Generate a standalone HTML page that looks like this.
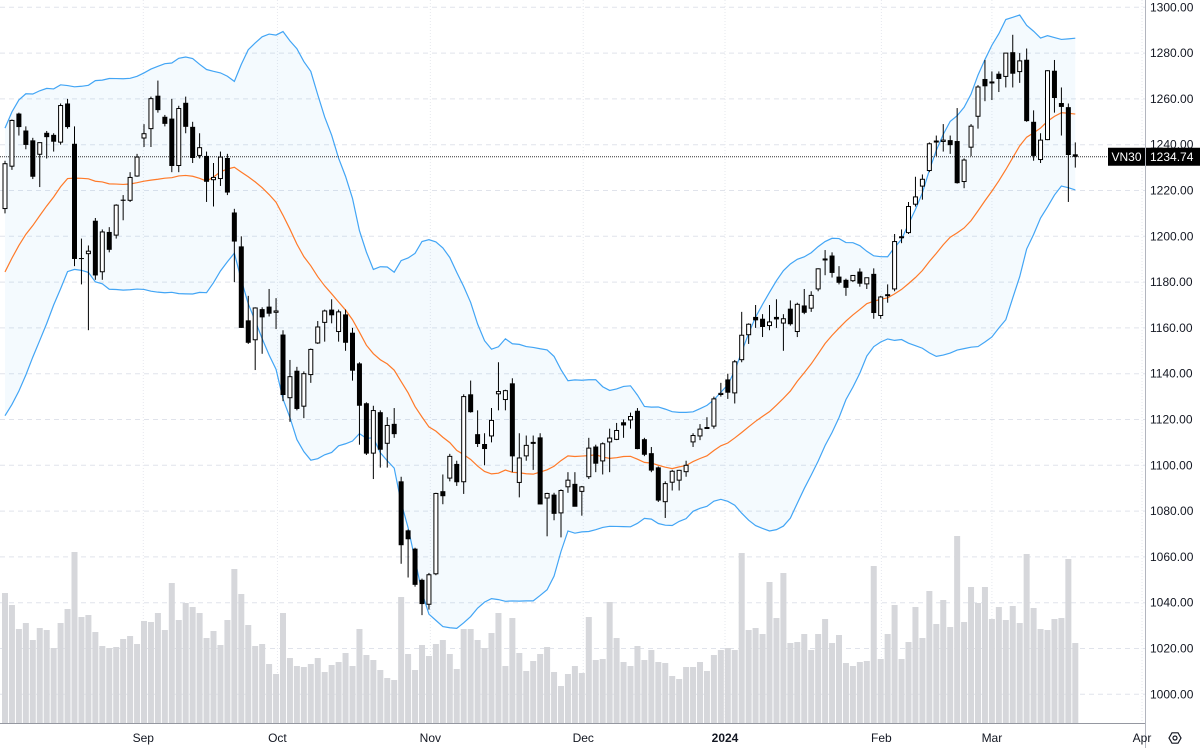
<!DOCTYPE html>
<html><head><meta charset="utf-8"><style>
html,body{margin:0;padding:0;background:#fff;}
svg{display:block;font-family:"Liberation Sans",sans-serif;}
</style></head><body>
<svg id="chart" width="1200" height="748" viewBox="0 0 1200 748" xmlns="http://www.w3.org/2000/svg">
<g id="grid"></g>
<g id="vol"></g>
<g id="bands"></g>
<g id="candles"></g>
<g id="axes"></g>
</svg>
<script>
const opens=[1211.9,1230.4,1253.6,1246.2,1241.9,1235.6,1245.2,1244.3,1240.9,1258,1240.4,1190.5,1192.2,1206.8,1184.3,1201.9,1200.3,1216,1215.5,1226.1,1242.7,1246.8,1261.4,1252.2,1251.4,1230.7,1258.3,1247.8,1235.1,1235.1,1224.5,1225,1234.2,1210.4,1195.6,1163.3,1154.6,1168.2,1169.3,1166.6,1157.1,1129.3,1141.3,1125.6,1139.4,1153.2,1162.2,1168,1158.2,1165.9,1157.9,1144.5,1127.1,1105.1,1123.2,1109.4,1118.1,1093,1071.6,1063.6,1050,1039.1,1052.4,1088.7,1094.2,1100.6,1092.6,1131,1113.6,1109.3,1112.6,1131,1128.5,1135.8,1092.3,1103.9,1110,1112.2,1085.5,1087.2,1079,1090.4,1091.9,1088.4,1094.8,1108.2,1101.7,1110,1111.1,1118.8,1119.6,1123.8,1111.4,1105.3,1099.1,1083.9,1092.4,1093.3,1097,1110,1112.6,1116.5,1116.9,1130.7,1137.5,1131.4,1145.9,1156.8,1164.8,1164,1160.8,1164.8,1161.9,1168.4,1158.2,1169.8,1168.4,1176.8,1190,1191.6,1182.4,1181,1180.4,1184.6,1179,1183.6,1165.2,1174.5,1176.8,1199.8,1201.4,1213.8,1221.7,1228.5,1241.6,1241.2,1242,1241.6,1223.7,1238.7,1252.2,1268.7,1267.4,1271,1269.6,1280.4,1271.7,1277.1,1250,1233.3,1242,1272.3,1258.2,1256.4,1235.8];
const highs=[1233,1251,1254,1248,1243,1241,1246,1245,1258,1260,1248,1199,1196,1208,1203,1204,1214,1218,1228,1236,1249,1261,1268,1253,1260,1257,1261,1250,1245,1237,1232,1237,1236,1212,1200,1174,1169,1169,1177,1173,1159,1146,1143,1141,1151,1163,1168,1172.5,1168,1168,1160,1145,1127.5,1126,1124,1121,1125,1095,1072,1064,1050.5,1053,1088,1096,1105,1102,1131,1137,1124,1114,1125,1145,1133,1138,1114,1113,1113,1114,1088,1088,1089.5,1097,1097,1091,1112,1109,1110,1116,1118.5,1120,1123,1125,1112,1108,1099.5,1093,1098,1098,1102,1114,1118,1121,1130,1136,1140,1146,1167,1162,1170,1166,1170,1172.5,1166,1172,1171,1177,1176,1186,1194,1193,1187,1181.5,1183,1186,1182,1186,1174,1179,1201,1203,1215,1226,1227,1241,1244,1249,1244,1256,1234,1249,1266,1277,1272,1272,1280,1288,1280,1282,1255,1245,1272.5,1277,1265,1258,1241];
const lows=[1210,1229,1244,1238,1225,1221.5,1234,1237,1240,1247,1187,1179,1159,1181,1181,1193,1199,1207,1215,1226,1239,1239,1254,1248,1228,1228,1245,1232,1234,1215,1213,1222,1218,1180,1160,1153,1141.6,1148.7,1165,1159.5,1128,1119,1124,1120.6,1136,1153,1154,1162,1154,1150,1137,1109,1104.5,1094,1099,1099,1112,1057,1051,1047,1034.6,1037,1052,1083,1093,1091,1087.5,1123,1108,1100,1110,1124,1124,1097,1086,1102,1098,1083,1069,1076,1068.5,1088,1082,1078,1094,1097,1096,1097,1111,1112,1116,1107,1104,1097,1084,1077,1089,1089,1095,1108,1111,1116,1116,1130,1129,1127,1145,1153,1160,1156,1159,1160,1150,1161,1156,1166,1167,1176,1183,1182,1179,1174,1180,1178,1177,1164,1164,1171,1176,1197,1201,1213,1216,1228,1235,1237,1236,1223,1221,1235,1247,1259,1259.5,1263,1265,1265,1267,1250,1233,1232,1242,1254,1244,1215,1230];
const closes=[1231.7,1250.6,1247.7,1239.9,1226,1240.9,1243.3,1241.3,1257.1,1247.7,1190.1,1190.1,1193.5,1182.9,1201.9,1194.1,1213.6,1215.5,1225.7,1234.6,1244.8,1260.1,1255.1,1249.1,1230.7,1255.8,1247.8,1234.2,1238.7,1223.8,1225.7,1234.6,1219.1,1197.7,1160,1153.5,1168.7,1164.6,1166.2,1167.4,1130.7,1138.7,1124.6,1140,1150.6,1160.4,1167.4,1165.5,1167,1153.5,1141.3,1126,1105.1,1123.9,1106.8,1117.4,1113.6,1065.1,1067.7,1047.8,1039.4,1052.2,1087.7,1086.5,1103.9,1092.6,1130,1123.2,1109.3,1107.1,1119.6,1132.2,1132.6,1103.9,1103.2,1108.7,1110,1082.9,1087.7,1078.8,1089,1093.5,1081.9,1090.6,1107.5,1100.7,1109.4,1111.9,1115.2,1117.4,1121.3,1107.1,1104.6,1097.7,1084.6,1092,1097.4,1097.8,1100,1113,1115.8,1116.5,1129,1131.4,1131.7,1145.2,1156.8,1161.6,1163.3,1160.4,1162.6,1163.7,1164,1161.6,1170.3,1166.6,1174.2,1185.8,1190.1,1184,1179.7,1177.5,1182.9,1179.3,1181.9,1166.5,1173.5,1174.5,1197.7,1199.8,1213,1217.2,1224.9,1240.4,1241.6,1242,1239.8,1223.2,1233.3,1248.1,1265.2,1265.5,1267.4,1268.7,1280,1271,1276.6,1250.3,1235.1,1242,1272.3,1260.4,1256.5,1235.5,1234.74];
const volumes=[130,118,94,100,83,95,93,75,100,114,171,106,108,91,77,75,76,84,87,79,102,101,110,93,140,103,120,116,110,85,92,78,103,154,129,98,77,79,59,49,110,65,57,56,59,65,51,58,61,70,57,94,68,63,53,45,43,126,69,53,78,67,79,83,69,54,94,94,83,75,90,110,57,105,70,52,62,69,76,51,37,49,57,50,106,63,64,121,85,61,57,77,63,73,61,60,47,44,56,56,61,52,68,73,75,73,170,93,95,89,141,105,150,80,81,89,73,89,104,80,88,60,57,61,62,157,64,89,118,64,81,116,85,132,99,123,96,187,101,136,120,136,104,116,103,117,100,169,115,94,93,104,105,164,80];
const priorCloses=[1130,1137,1143,1149,1154,1159,1163,1168,1176,1186,1192,1198,1204,1208,1211,1215,1219,1222,1223];
const priceTicks=[1000,1020,1040,1060,1080,1100,1120,1140,1160,1180,1200,1220,1240,1260,1280,1300];
const monthLabels=["Sep","Oct","Nov","Dec","2024","Feb","Mar","Apr"];
const monthIndex=[19.9,39.2,61.2,83.2,103.6,126.1,142.0,163.6];
const lastPrice=1234.74;

const NS="http://www.w3.org/2000/svg";
const PLOT_R=1145, BASE=723;
function xS(i){return 5+i*6.95;}
function yS(v){return 7.3+(1300-v)*2.29;}
function vS(v){return BASE-v;}
function mk(tag,attrs,parent){const e=document.createElementNS(NS,tag);for(const k in attrs)e.setAttribute(k,attrs[k]);parent.appendChild(e);return e;}
const grid=document.getElementById('grid'),vol=document.getElementById('vol'),bands=document.getElementById('bands'),cg=document.getElementById('candles'),axes=document.getElementById('axes');

priceTicks.forEach(t=>{const l=mk('line',{x1:0,x2:PLOT_R,y1:yS(t),y2:yS(t),stroke:'#e0e3eb','stroke-dasharray':'5,4','stroke-width':1},grid);

});
monthIndex.forEach(m=>{const l=mk('line',{x1:xS(m),x2:xS(m),y1:0,y2:BASE,stroke:'#e6e8ee','stroke-dasharray':'1,2','stroke-width':1},grid);

});

volumes.forEach((v,i)=>{const r=mk('rect',{x:xS(i)-3,y:vS(v),width:6,height:v,fill:'#d6d7db'},vol);

});

const all=priorCloses.concat(closes);const up=[],mid=[],lo=[];
for(let i=0;i<closes.length;i++){const w=all.slice(i,i+20);const m=w.reduce((a,b)=>a+b,0)/20;const sd=Math.sqrt(w.reduce((a,b)=>a+(b-m)*(b-m),0)/20);mid.push(m);up.push(m+2*sd);lo.push(m-2*sd);}
const ptsU=up.map((v,i)=>xS(i)+','+yS(v)),ptsL=lo.map((v,i)=>xS(i)+','+yS(v));
const fill=mk('polygon',{points:ptsU.concat(ptsL.slice().reverse()).join(' '),fill:'#2196f3','fill-opacity':0.05},bands);


const pu=mk('polyline',{points:ptsU.join(' '),fill:'none',stroke:'#42a5f5','stroke-width':1.2},bands);


const pl=mk('polyline',{points:ptsL.join(' '),fill:'none',stroke:'#42a5f5','stroke-width':1.2},bands);


const pm=mk('polyline',{points:mid.map((v,i)=>xS(i)+','+yS(v)).join(' '),fill:'none',stroke:'#ff7a29','stroke-width':1.2},bands);



const lp=mk('line',{x1:0,x2:PLOT_R,y1:yS(lastPrice),y2:yS(lastPrice),stroke:'#333','stroke-dasharray':'1,1','stroke-width':1},bands);



closes.forEach((c,i)=>{const o=opens[i],x=xS(i);const g=mk('g',{},cg);


const down=c<o;
mk('line',{x1:x,x2:x,y1:yS(highs[i]),y2:yS(lows[i]),stroke:'#000','stroke-width':1},g);
const top=yS(Math.max(o,c)),bot=yS(Math.min(o,c));const h=Math.max(bot-top,1);
if(down)mk('rect',{x:x-2.5,y:top,width:5,height:h,fill:'#000'},g);
else mk('rect',{x:x-2,y:top,width:4,height:Math.max(h-0.5,1),fill:'#fff',stroke:'#000','stroke-width':1},g);});

const ab=mk('line',{x1:PLOT_R+0.5,x2:PLOT_R+0.5,y1:0,y2:748,stroke:'#b2b5be','stroke-width':1},axes);


const bb=mk('line',{x1:0,x2:PLOT_R,y1:BASE+0.5,y2:BASE+0.5,stroke:'#9598a1','stroke-width':1},axes);


priceTicks.forEach(t=>{const tx=mk('text',{x:1150,y:yS(t)+4,'font-size':12,fill:'#131722'},axes);tx.textContent=t.toFixed(2);

});
monthLabels.forEach((m,k)=>{const tx=mk('text',{x:xS(monthIndex[k]),y:742,'font-size':12,fill:'#131722','text-anchor':'middle','font-weight':m==='2024'?'bold':'normal'},axes);tx.textContent=m;

});
const ly=yS(lastPrice);
const sb=mk('rect',{x:1108,y:ly-9,width:37,height:18,fill:'#000'},axes);


const st=mk('text',{x:1126.5,y:ly+4.5,'font-size':12,fill:'#fff','text-anchor':'middle'},axes);st.textContent='VN30';


const pb=mk('rect',{x:1146,y:ly-9,width:54,height:18,fill:'#000'},axes);


const pt=mk('text',{x:1150,y:ly+4.5,'font-size':12,fill:'#fff'},axes);pt.textContent=lastPrice.toFixed(2);


const gear=mk('g',{},axes);


mk('polygon',{points:'1169,738 1172,732.8 1178,732.8 1181,738 1178,743.2 1172,743.2',fill:'none',stroke:'#131722','stroke-width':1.2},gear);
mk('circle',{cx:1175,cy:738,r:2,fill:'none',stroke:'#131722','stroke-width':1.2},gear);
</script>
</body></html>
